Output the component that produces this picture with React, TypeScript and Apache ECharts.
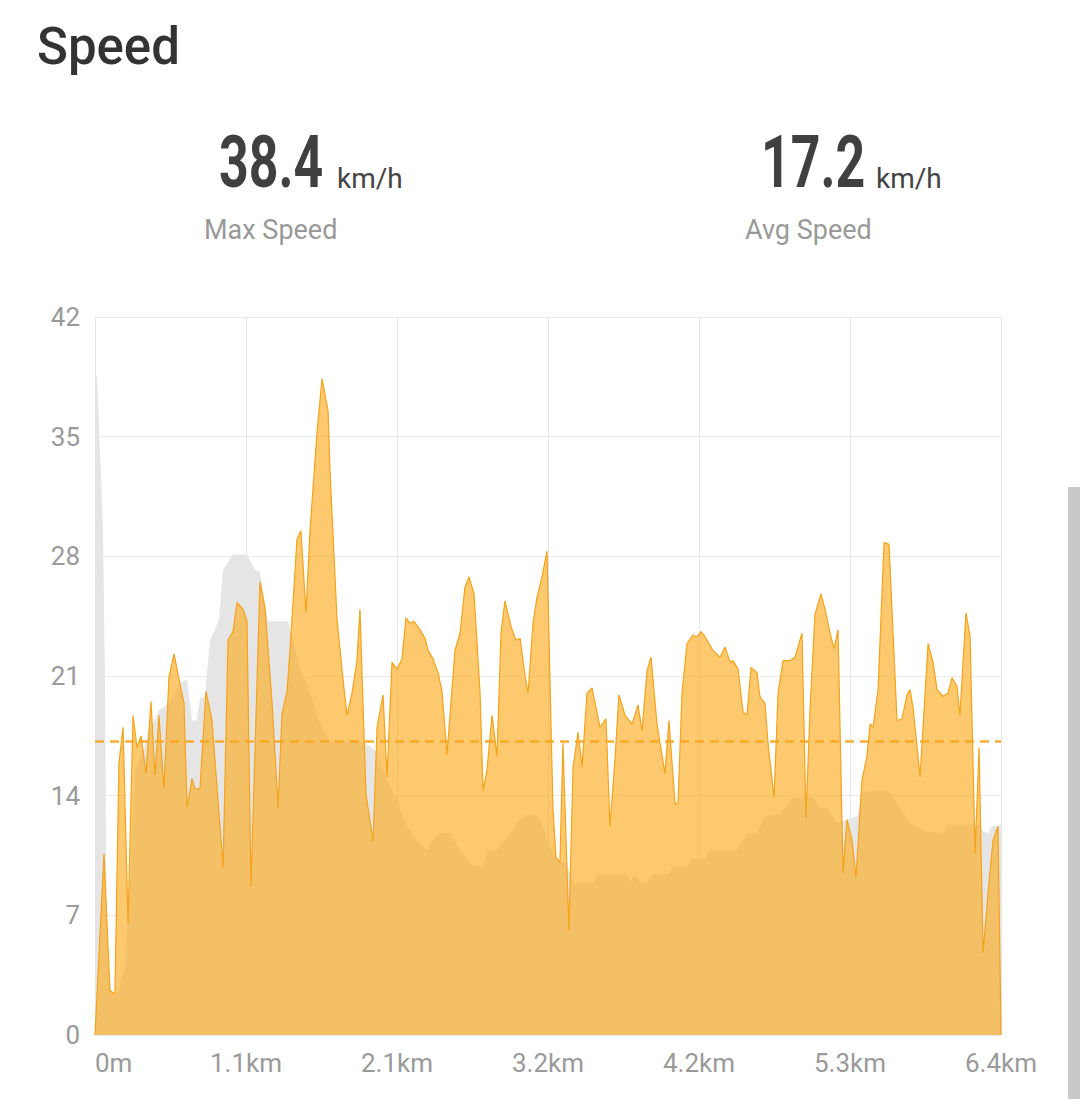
import React, { useEffect, useRef } from 'react';
import * as echarts from 'echarts';

// distance along the ride (metres) and speed (km/h)
const speedDist = [
  0, 63, 105, 140, 168, 197, 232, 267, 295, 323,
  358, 393, 421, 449, 484, 519, 555, 597, 625, 646,
  681, 702, 737, 779, 821, 899, 934, 969, 997, 1039,
  1067, 1095, 1158, 1193, 1243, 1285, 1313, 1348, 1369, 1418,
  1446, 1481, 1509, 1558, 1594, 1636, 1650, 1699, 1741, 1769,
  1804, 1839, 1860, 1902, 1952, 1980, 2022, 2050, 2085, 2120,
  2155, 2183, 2211, 2239, 2282, 2317, 2338, 2373, 2408, 2436,
  2471, 2527, 2562, 2597, 2625, 2661, 2703, 2724, 2752, 2787,
  2822, 2850, 2878, 2920, 2955, 2984, 3019, 3040, 3075, 3103,
  3138, 3173, 3215, 3236, 3264, 3285, 3327, 3356, 3391, 3419,
  3454, 3489, 3545, 3587, 3615, 3650, 3678, 3721, 3770, 3812,
  3840, 3875, 3903, 3945, 4001, 4029, 4072, 4093, 4121, 4156,
  4198, 4226, 4254, 4282, 4338, 4388, 4423, 4458, 4479, 4514,
  4549, 4577, 4605, 4647, 4668, 4703, 4724, 4767, 4795, 4830,
  4879, 4914, 4963, 4991, 5019, 5054, 5096, 5125, 5160, 5188,
  5216, 5251, 5279, 5314, 5342, 5384, 5419, 5441, 5462, 5497,
  5539, 5574, 5630, 5665, 5700, 5721, 5742, 5792, 5848, 5883,
  5911, 5953, 5988, 6016, 6051, 6072, 6114, 6143, 6178, 6206,
  6234, 6269, 6304, 6339, 6360,
];
const speedVals = [
  0, 10.6, 2.6, 2.4, 15.9, 18.0, 6.5, 18.7, 16.8, 17.5,
  15.3, 19.5, 15.2, 18.7, 14.4, 20.9, 22.3, 20.5, 19.4, 13.3,
  15.0, 14.4, 14.4, 20.1, 18.4, 9.8, 23.1, 23.6, 25.3, 24.9,
  24.2, 8.7, 26.5, 25.0, 19.4, 13.3, 18.8, 20.1, 22.5, 29.0,
  29.5, 24.7, 29.5, 35.2, 38.4, 36.5, 33.0, 24.3, 20.8, 18.7,
  20.0, 21.9, 24.9, 14.1, 11.3, 18.0, 19.9, 15.1, 21.8, 21.4,
  22.0, 24.4, 24.1, 24.2, 23.7, 23.2, 22.5, 22.0, 21.2, 20.1,
  16.4, 22.5, 23.5, 26.2, 26.8, 25.8, 20.0, 14.3, 15.5, 18.7,
  16.3, 23.5, 25.4, 23.9, 23.1, 23.2, 21.0, 20.0, 24.1, 25.6,
  26.8, 28.3, 13.2, 10.4, 10.1, 17.1, 6.1, 15.7, 17.7, 15.7,
  20.0, 20.3, 18.0, 18.5, 12.2, 16.1, 19.9, 18.7, 18.2, 19.3,
  17.8, 21.3, 22.1, 18.2, 15.3, 18.4, 13.5, 13.6, 20.0, 22.9,
  23.4, 23.3, 23.6, 23.3, 22.5, 22.1, 22.7, 21.8, 21.9, 21.4,
  18.9, 18.7, 21.5, 21.2, 19.8, 19.4, 17.1, 13.9, 20.0, 21.9,
  21.9, 22.1, 23.5, 12.7, 19.0, 24.6, 25.8, 24.9, 23.5, 22.6,
  23.7, 9.5, 12.6, 11.4, 9.2, 14.9, 16.3, 18.2, 18.0, 20.2,
  28.8, 28.7, 18.4, 18.5, 19.9, 20.2, 19.2, 15.1, 22.9, 21.8,
  20.2, 19.8, 20.0, 20.9, 20.4, 18.7, 24.7, 23.3, 10.6, 16.8,
  4.8, 8.3, 11.4, 12.2, 0,
];

// grey background profile
const bgDist = [
  0, 14, 35, 56, 70, 77, 84, 105, 140, 161,
  211, 246, 281, 330, 386, 449, 519, 597, 646, 681,
  716, 737, 772, 807, 842, 870, 899, 969, 1067, 1123,
  1158, 1214, 1355, 1390, 1439, 1509, 1580, 1650, 1881, 1931,
  1980, 2050, 2120, 2190, 2260, 2331, 2373, 2422, 2492, 2562,
  2633, 2724, 2759, 2822, 2864, 2913, 2984, 3033, 3103, 3145,
  3194, 3243, 3313, 3356, 3496, 3531, 3735, 3756, 3791, 3826,
  3875, 3917, 4022, 4058, 4156, 4191, 4282, 4317, 4507, 4577,
  4647, 4703, 4809, 4879, 4914, 5040, 5090, 5139, 5209, 5349,
  5384, 5532, 5581, 5651, 5721, 5827, 5953, 5981, 6213, 6234,
  6269, 6297, 6360,
];
const bgVals = [
  38.5, 38.5, 34.2, 29.4, 20.8, 11, 4.8, 2.8, 2.3, 2.5,
  4, 9, 15.5, 16.5, 17.8, 19.0, 19.4, 20.6, 20.8, 18.4,
  18.4, 19.7, 19.8, 23.1, 23.7, 24.3, 27.2, 28.1, 28.1, 27.2,
  27.1, 24.2, 24.2, 23.1, 21.5, 20.0, 18.2, 17.2, 17.1, 16.9,
  16.5, 14.9, 13.7, 12.2, 11.4, 10.8, 11.4, 11.8, 11.8, 10.8,
  10.0, 9.8, 10.8, 10.8, 11.3, 11.8, 12.6, 12.9, 12.8, 12.2,
  11.0, 10.2, 10.0, 8.9, 8.9, 9.4, 9.4, 8.9, 9.4, 8.9,
  8.9, 9.4, 9.4, 9.8, 9.8, 10.3, 10.3, 10.8, 10.8, 11.8,
  11.8, 12.8, 12.9, 13.7, 13.9, 13.9, 13.3, 13.3, 12.4, 12.8,
  14.2, 14.3, 14.2, 13.3, 12.4, 11.9, 11.8, 12.3, 12.3, 11.9,
  11.8, 12.2, 12.3,
];

const totalDist = 6360;
const distStep = 1060;
const yMax = 42;
const yStep = 7;
const maxSpeed = '38.4';
const avgSpeedText = '17.2';
const avgSpeed = 17.2;
const unit = 'km/h';
const title = 'Speed';
const maxLabel = 'Max Speed';
const avgLabel = 'Avg Speed';

const ORANGE_FILL = 'rgba(252,171,28,0.64)';
const ORANGE_LINE = '#f5a21c';

export default function App() {
  const ref = useRef<HTMLDivElement>(null);
  useEffect(() => {
    const chart = echarts.init(ref.current!, null, { renderer: 'svg' });
    const speedData = speedDist.map((d, i) => [d, speedVals[i]]);
    const bgData = bgDist.map((d, i) => [d, bgVals[i]]);
    const numFont = 'Roboto';
    chart.setOption({
      animation: false,
      backgroundColor: '#ffffff',
      grid: { left: 95, right: 79, top: 317, bottom: 64 },
      xAxis: {
        type: 'value',
        min: 0,
        max: totalDist,
        interval: distStep,
        axisLine: { show: false },
        axisTick: { show: false },
        splitLine: { show: true, lineStyle: { color: '#e6e6e6', width: 1 } },
        axisLabel: {
          color: '#9a9a9a',
          fontSize: 26,
          fontFamily: 'Roboto',
          margin: 15,
          alignMinLabel: 'left',
          formatter: (v: number) => (v === 0 ? '0m' : (v / 1000).toFixed(1) + 'km'),
        },
      },
      yAxis: {
        type: 'value',
        min: 0,
        max: yMax,
        interval: yStep,
        axisLine: { show: false },
        axisTick: { show: false },
        splitLine: { show: true, lineStyle: { color: '#eaeaea', width: 1 } },
        axisLabel: {
          color: '#9a9a9a',
          fontSize: 26,
          fontFamily: 'Roboto',
          margin: 15,
        },
      },
      series: [
        {
          type: 'line',
          data: bgData,
          symbol: 'none',
          silent: true,
          lineStyle: { width: 0, color: '#e5e5e5' },
          areaStyle: { color: '#e5e5e5', opacity: 1 },
          z: 1,
        },
        {
          type: 'line',
          data: speedData,
          symbol: 'none',
          silent: true,
          lineStyle: { width: 1.2, color: ORANGE_LINE },
          areaStyle: { color: ORANGE_FILL, opacity: 1 },
          z: 2,
          markLine: {
            silent: true,
            symbol: 'none',
            label: { show: false },
            lineStyle: { color: '#f6a51f', width: 2.5, type: [9, 6], opacity: 0.9 },
            data: [{ yAxis: avgSpeed }],
          },
        },
      ],
      graphic: [
        {
          type: 'text',
          x: 37,
          y: 46,
          style: {
            text: title,
            fontSize: 51,
            fontWeight: 500,
            fontFamily: 'Roboto',
            fill: '#333333',
            align: 'left',
            verticalAlign: 'middle',
          },
        },
        {
          type: 'text',
          x: 219,
          y: 162,
          scaleX: 0.71,
          style: {
            text: maxSpeed,
            fontSize: 73,
            fontWeight: 'bold',
            fontFamily: numFont,
            fill: '#404040',
            align: 'left',
            verticalAlign: 'middle',
          },
        },
        {
          type: 'text',
          x: 337,
          y: 178,
          style: {
            text: unit,
            fontSize: 28,
            fontFamily: 'Roboto',
            fill: '#444444',
            align: 'left',
            verticalAlign: 'middle',
          },
        },
        {
          type: 'text',
          x: 204,
          y: 230,
          style: {
            text: maxLabel,
            fontSize: 27,
            fontFamily: 'Roboto',
            fill: '#999999',
            align: 'left',
            verticalAlign: 'middle',
          },
        },
        {
          type: 'text',
          x: 761,
          y: 162,
          scaleX: 0.71,
          style: {
            text: avgSpeedText,
            fontSize: 73,
            fontWeight: 'bold',
            fontFamily: numFont,
            fill: '#404040',
            align: 'left',
            verticalAlign: 'middle',
          },
        },
        {
          type: 'text',
          x: 876,
          y: 178,
          style: {
            text: unit,
            fontSize: 28,
            fontFamily: 'Roboto',
            fill: '#444444',
            align: 'left',
            verticalAlign: 'middle',
          },
        },
        {
          type: 'text',
          x: 745,
          y: 230,
          style: {
            text: avgLabel,
            fontSize: 27,
            fontFamily: 'Roboto',
            fill: '#999999',
            align: 'left',
            verticalAlign: 'middle',
          },
        },
        {
          type: 'rect',
          shape: { x: 1068, y: 487, width: 12, height: 612 },
          style: { fill: '#c8c8c8' },
          silent: true,
        },
      ],
    });
    return () => chart.dispose();
  }, []);
  return (
    <div
      ref={ref}
      style={{ position: 'absolute', left: 0, top: 0, width: 1080, height: 1099 }}
    />
  );
}
